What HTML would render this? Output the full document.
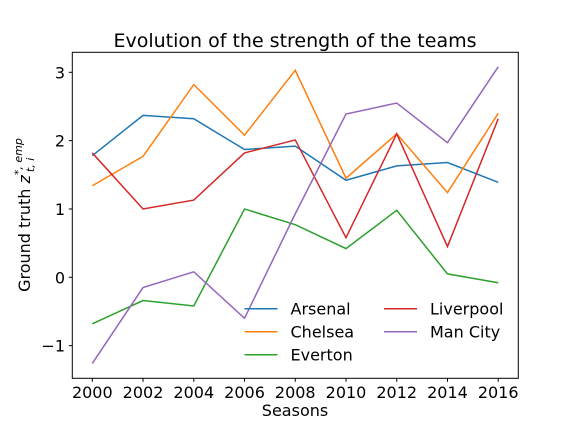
<!DOCTYPE html>
<html><head><meta charset="utf-8"><style>body{margin:0;background:#fff}svg{display:block;font-family:"DejaVu Sans","Liberation Sans",sans-serif}</style></head>
<body>
<svg id="chart" width="576" height="432" viewBox="0 0 576 432">
<text x="295" y="47" text-anchor="middle" font-size="19">Evolution of the strength of the teams</text>
<g id="marks"></g>
<rect x="72.3" y="52.3" width="446" height="326" fill="none" stroke="#000" stroke-width="1"/>
<g id="axes" font-size="16"></g>
<text x="295" y="416" text-anchor="middle" font-size="16">Seasons</text>
<text transform="translate(30,215) rotate(-90)" text-anchor="middle" font-size="16">Ground truth <tspan font-style="italic">z</tspan><tspan font-size="11" dy="-8" font-style="italic">*, emp</tspan><tspan font-size="11" dx="-34" dy="12" font-style="italic">t, i</tspan></text>
<g id="legend" font-size="16"></g>
</svg>
<script>
const seasons=[2000,2002,2004,2006,2008,2010,2012,2014,2016];
const teams=["Arsenal","Chelsea","Everton","Liverpool","Man City"];
const colors=["#1f77b4","#ff7f0e","#2ca02c","#d62728","#9467bd"];
const arsenal=[1.78,2.37,2.32,1.87,1.92,1.42,1.63,1.68,1.39];
const chelsea=[1.34,1.77,2.82,2.08,3.03,1.45,2.10,1.24,2.40];
const everton=[-0.68,-0.34,-0.42,1.00,0.77,0.42,0.98,0.05,-0.08];
const liverpool=[1.82,1.00,1.13,1.82,2.01,0.58,2.10,0.45,2.32];
const mancity=[-1.26,-0.15,0.08,-0.60,0.93,2.39,2.55,1.97,3.08];
const series=[arsenal,chelsea,everton,liverpool,mancity];
const xTicks=[2000,2002,2004,2006,2008,2010,2012,2014,2016];
const yTicks=[-1,0,1,2,3];
const NS="http://www.w3.org/2000/svg";
const X=v=>92.3+(v-2000)*25.37;
const Y=v=>277.3-v*68.33;
const marks=document.getElementById('marks'),axes=document.getElementById('axes'),legend=document.getElementById('legend');
function mk(tag,attrs,parent){const e=document.createElementNS(NS,tag);for(const k in attrs)e.setAttribute(k,attrs[k]);parent.appendChild(e);return e;}
series.forEach((s,i)=>{
 const p=mk('polyline',{points:s.map((v,j)=>X(seasons[j])+','+Y(v)).join(' '),fill:'none',stroke:colors[i],'stroke-width':1.5},marks);
 
 
});
xTicks.forEach(t=>{
 const l=mk('line',{x1:X(t),x2:X(t),y1:378.3,y2:381.8,stroke:'#000'},axes);
 
 
 const tx=mk('text',{x:X(t),y:398,'text-anchor':'middle'},axes);tx.textContent=t;
 
 
});
yTicks.forEach(t=>{
 const l=mk('line',{x1:68.8,x2:72.3,y1:Y(t),y2:Y(t),stroke:'#000'},axes);
 
 
 const tx=mk('text',{x:65,y:Y(t)+6,'text-anchor':'end'},axes);tx.textContent=t<0?'\u2212'+(-t):t;
 
 
});
teams.forEach((n,i)=>{
 const col=i<3?0:1,row=i<3?i:i-3;
 const lx=col?384:244.5,ty=308.7+row*23;
 const g=mk('g',{},legend);
 
 
 mk('line',{x1:lx,x2:lx+33,y1:ty,y2:ty,stroke:colors[i],'stroke-width':1.5},g);
 const tx=mk('text',{x:lx+46,y:ty+6},g);tx.textContent=n;
});
</script>
</body></html>
